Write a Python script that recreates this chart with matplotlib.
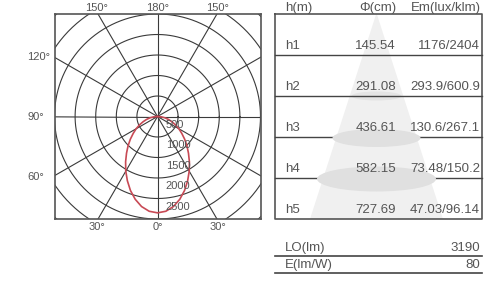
import numpy as np
import matplotlib
matplotlib.use("Agg")
from matplotlib import pyplot as plt
from matplotlib.patches import Polygon, Ellipse

plt.rcParams['font.family'] = ['Liberation Sans', 'DejaVu Sans']

# light distribution curve (cd/klm), angle from nadir in degrees
angles = [-90, -85, -80, -75, -70, -65, -60, -55, -50, -45, -40, -35, -30, -25, -20, -15, -10, -5,
          0, 5, 10, 15, 20, 25, 30, 35, 40, 45, 50, 55, 60, 65, 70, 75, 80, 85, 90]
intensity = [0, 90, 180, 275, 370, 480, 600, 720, 860, 1010, 1170, 1350, 1540, 1730, 1920, 2090, 2230, 2320,
             2350, 2320, 2230, 2090, 1920, 1730, 1540, 1350, 1170, 1010, 860, 720, 600, 480, 370, 275, 180, 90, 0]
ring_values = [500, 1000, 1500, 2000, 2500]
extra_rings = [3000, 3500]
spoke_angles = [0, 30, 60, 90, 120, 150, 180, 210, 240, 270, 300, 330]

# table data
heights = ['h1', 'h2', 'h3', 'h4', 'h5']
diameters = ['145.54', '291.08', '436.61', '582.15', '727.69']
illum = ['1176/2404', '293.9/600.9', '130.6/267.1', '73.48/150.2', '47.03/96.14']
headers = ['h(m)', 'Φ(cm)', 'Em(lux/klm)']
summary_names = ['LO(lm)', 'E(lm/W)']
summary_vals = ['3190', '80']

W, H = 498, 284
fig = plt.figure(figsize=(W / 100, H / 100), dpi=100)
fig.patch.set_facecolor('white')

grid_c = '#3a3a3a'
text_c = '#555555'
fs_tab = 9.5

# ---- polar diagram (drawn on cartesian axes, box clips the rings)
pl, pr, pt, pb = 54.5, 260.5, 14, 219
ax = fig.add_axes([pl / W, 1 - pb / H, (pr - pl) / W, (pb - pt) / H])
ax.set_xlim(-2500, 2500)
ax.set_ylim(-2500, 2500)
ax.set_xticks([])
ax.set_yticks([])
for s in ax.spines.values():
    s.set_color('#555555')
    s.set_linewidth(1.2)

t = np.linspace(0, 2 * np.pi, 400)
for r in ring_values + extra_rings:
    ax.plot(r * np.cos(t), r * np.sin(t), color=grid_c, lw=0.8)
for a in spoke_angles:
    ar = np.radians(a)
    ax.plot([0, 4000 * np.sin(ar)], [0, -4000 * np.cos(ar)], color=grid_c, lw=0.8)

th = np.radians(angles)
r = np.array(intensity)
ax.plot(r * np.sin(th), -r * np.cos(th), color='#c84a55', lw=1.2, zorder=5)

for v in ring_values:
    ax.text(200, -(v - 300), str(v), fontsize=8, color=text_c, ha='left', va='center', zorder=6)

# ---- overlay in pixel coordinates for outer labels and table
ov = fig.add_axes([0, 0, 1, 1])
ov.set_xlim(0, W)
ov.set_ylim(H, 0)
ov.axis('off')

for x, lab in [(97, '150°'), (157.5, '180°'), (218, '150°')]:
    ov.text(x, 8, lab, fontsize=8, color=text_c, ha='center', va='center')
for x, lab in [(97, '30°'), (157.5, '0°'), (218, '30°')]:
    ov.text(x, 227, lab, fontsize=8, color=text_c, ha='center', va='center')
for y, lab in [(56.5, '120°'), (116.5, '90°'), (176.5, '60°')]:
    ov.text(27, y, lab, fontsize=8, color=text_c, ha='left', va='center')

tl, tr, tt, tb = 275, 482, 14, 219
row_h = (tb - tt) / len(heights)
cx = 376.5

# cone
ov.add_patch(Polygon([(310, tb), (cx, tt - 1), (443, tb)], closed=True, color='#f0f0f0', lw=0, zorder=1))
ov.add_patch(Ellipse((cx, tt + 2 * row_h), 50, 9, color='#e4e4e4', lw=0, zorder=1.5))
ov.add_patch(Ellipse((cx, tt + 3 * row_h + 1), 88, 18, color='#e0e0e0', lw=0, zorder=3))
ov.add_patch(Ellipse((cx, tt + 4 * row_h + 1), 119, 25, color='#e0e0e0', lw=0, zorder=3))

ov.plot([tl, tr, tr, tl, tl], [tt, tt, tb, tb, tt], color='#555555', lw=1.2, zorder=2)
for i in range(1, len(heights)):
    y = tt + i * row_h
    ov.plot([tl, tr], [y, y], color='#444444', lw=1.0, zorder=2)

ov.text(285, 8, headers[0], fontsize=fs_tab, color=text_c, ha='left', va='center', zorder=4)
ov.text(396, 8, headers[1], fontsize=fs_tab, color=text_c, ha='right', va='center', zorder=4)
ov.text(481, 8, headers[2], fontsize=fs_tab, color=text_c, ha='right', va='center', zorder=4)

for i in range(len(heights)):
    y = tt + (i + 1) * row_h - 9
    ov.text(285, y, heights[i], fontsize=fs_tab, color=text_c, ha='left', va='center', zorder=4)
    ov.text(396, y, diameters[i], fontsize=fs_tab, color=text_c, ha='right', va='center', zorder=4)
    ov.text(480, y, illum[i], fontsize=fs_tab, color=text_c, ha='right', va='center', zorder=4)

for i in range(len(summary_names)):
    y = 248 + i * 17
    ov.text(285, y, summary_names[i], fontsize=fs_tab, color=text_c, ha='left', va='center')
    ov.text(480, y, summary_vals[i], fontsize=fs_tab, color=text_c, ha='right', va='center')
    ov.plot([tl, tr], [y + 8, y + 8], color='#444444', lw=1.2)

fig.savefig('out.png', dpi=100, facecolor='white')
